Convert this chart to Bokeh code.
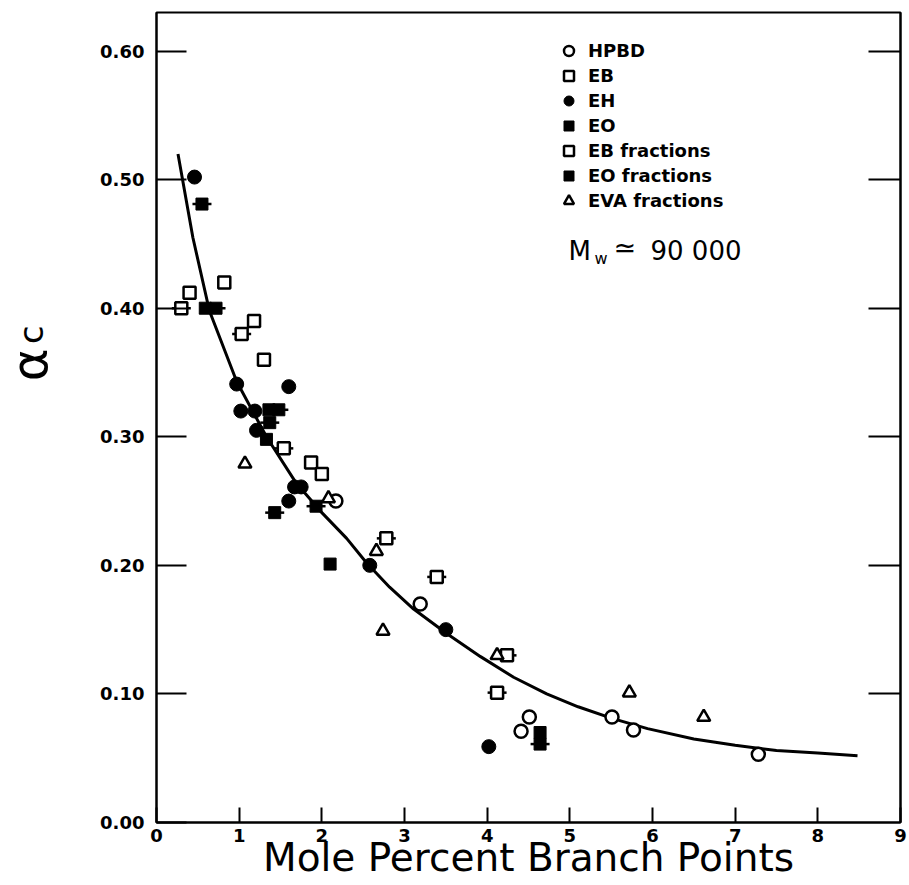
import math

from bokeh.plotting import figure
from bokeh.layouts import row
from bokeh.models import (Range1d, LinearAxis, FixedTicker, Legend, LegendItem,
                          Label, NumeralTickFormatter)
from bokeh.core.properties import value
from bokeh.embed import file_html
from bokeh.resources import INLINE

# Critical conversion alpha_c against mole percent branch points
hpbd_x = [2.17, 3.19, 4.41, 4.51, 5.51, 5.77, 7.28]
hpbd_y = [0.250, 0.170, 0.071, 0.082, 0.082, 0.072, 0.053]

eb_x = [0.40, 0.82, 1.18, 1.30, 1.87, 2.00]
eb_y = [0.412, 0.420, 0.390, 0.360, 0.280, 0.271]

eh_x = [0.46, 0.97, 1.02, 1.19, 1.21, 1.60, 1.67, 1.75, 1.60, 2.58, 3.50, 4.02]
eh_y = [0.502, 0.341, 0.320, 0.320, 0.305, 0.339, 0.261, 0.261, 0.250, 0.200, 0.150, 0.059]

eo_x = [0.59, 1.33, 1.36, 2.10, 4.64]
eo_y = [0.400, 0.298, 0.321, 0.201, 0.070]

ebf_x = [0.30, 1.03, 1.54, 2.78, 3.39, 4.12, 4.24]
ebf_y = [0.400, 0.380, 0.291, 0.221, 0.191, 0.101, 0.130]

eof_x = [0.55, 0.72, 1.37, 1.48, 1.43, 1.93, 4.64]
eof_y = [0.481, 0.400, 0.311, 0.321, 0.241, 0.246, 0.061]

eva_x = [1.07, 2.08, 2.66, 2.74, 4.12, 5.72, 6.62]
eva_y = [0.279, 0.252, 0.211, 0.149, 0.130, 0.101, 0.082]

# fitted curve, read along its length
curve_x = [0.26, 0.44, 0.64, 0.97, 1.33, 1.69, 2.00, 2.30, 2.54, 2.82, 3.11, 3.51,
           3.92, 4.32, 4.72, 5.10, 5.51, 5.94, 6.50, 7.00, 7.50, 8.00, 8.48]
curve_y = [0.520, 0.455, 0.398, 0.343, 0.300, 0.264, 0.241, 0.221, 0.202, 0.183, 0.166, 0.147,
           0.129, 0.113, 0.100, 0.090, 0.081, 0.073, 0.065, 0.060, 0.056, 0.054, 0.052]

x_ticks = [0, 1, 2, 3, 4, 5, 6, 7, 8, 9]
y_ticks = [0.0, 0.1, 0.2, 0.3, 0.4, 0.5, 0.6]
right_ticks = [0.1, 0.2, 0.3, 0.4, 0.5, 0.6]

FONT = "DejaVu Sans"
LABEL_W = 60  # strip on the left that holds the rotated y title

p = figure(width=909 - LABEL_W, height=885, x_range=Range1d(0, 9), y_range=Range1d(0, 0.63),
           output_backend="svg", toolbar_location=None, title=None,
           min_border_left=156 - LABEL_W, min_border_right=9, min_border_top=12,
           min_border_bottom=63, background_fill_color="white",
           border_fill_color="white")
p.grid.visible = False
p.outline_line_color = "black"
p.outline_line_width = 2

xa = p.xaxis[0]
xa.ticker = FixedTicker(ticks=x_ticks)
xa.major_tick_in = 15
xa.major_tick_out = 0
xa.minor_tick_line_color = None
xa.axis_line_width = 2
xa.major_tick_line_width = 2
xa.major_label_standoff = 6
xa.major_label_text_font = FONT
xa.major_label_text_font_style = "bold"
xa.major_label_text_font_size = "18px"
xa.major_label_text_color = "black"
xa.axis_label = "Mole Percent Branch Points"
xa.axis_label_text_font = FONT
xa.axis_label_text_font_style = "normal"
xa.axis_label_text_font_size = "39px"
xa.axis_label_text_color = "black"
xa.axis_label_standoff = -10

ya = p.yaxis[0]
ya.ticker = FixedTicker(ticks=y_ticks)
ya.formatter = NumeralTickFormatter(format="0.00")
ya.major_tick_in = 30
ya.major_tick_out = 0
ya.minor_tick_line_color = None
ya.axis_line_width = 2
ya.major_tick_line_width = 2
ya.major_label_standoff = 12
ya.major_label_text_font = FONT
ya.major_label_text_font_style = "bold"
ya.major_label_text_font_size = "18px"
ya.major_label_text_color = "black"

# inward ticks along the right frame edge, no labels
ra = LinearAxis(ticker=FixedTicker(ticks=right_ticks), major_tick_in=32, major_tick_out=0,
                minor_tick_line_color=None, axis_line_width=2, major_tick_line_width=2,
                major_label_text_color=None, major_label_text_font_size="1px",
                major_label_standoff=0)
p.add_layout(ra, "right")

# curve under the markers
p.line(curve_x, curve_y, line_color="black", line_width=3)

open_kw = dict(fill_color="white", line_color="black", line_width=2.5)
solid_kw = dict(fill_color="black", line_color="black", line_width=1)

r_hpbd = p.scatter(hpbd_x, hpbd_y, marker="circle", size=13, **open_kw)
r_eb = p.scatter(eb_x, eb_y, marker="square", size=12, **open_kw)
r_eh = p.scatter(eh_x, eh_y, marker="circle", size=14, **solid_kw)
r_eo = p.scatter(eo_x, eo_y, marker="square", size=12, **solid_kw)

p.scatter(ebf_x, ebf_y, marker="dash", size=19, line_color="black", line_width=2.5)
r_ebf = p.scatter(ebf_x, ebf_y, marker="square", size=12, **open_kw)
p.scatter(eof_x, eof_y, marker="dash", size=19, line_color="black", line_width=2.5)
r_eof = p.scatter(eof_x, eof_y, marker="square", size=12, **solid_kw)

r_eva = p.scatter(eva_x, eva_y, marker="triangle", size=13, **open_kw)

# short side ticks for the "fractions" legend symbols
r_tick = p.segment(x0=[], y0=[], x1=[], y1=[], line_color="black", line_width=2.5,
                   line_dash="0 4 17 4")

items = [
    LegendItem(label="HPBD", renderers=[r_hpbd]),
    LegendItem(label="EB", renderers=[r_eb]),
    LegendItem(label="EH", renderers=[r_eh]),
    LegendItem(label="EO", renderers=[r_eo]),
    LegendItem(label="EB fractions", renderers=[r_tick, r_ebf]),
    LegendItem(label="EO fractions", renderers=[r_tick, r_eof]),
    LegendItem(label="EVA fractions", renderers=[r_eva]),
]
legend = Legend(items=items, location=(400, 609), glyph_width=25, glyph_height=25,
                label_height=25, spacing=0, padding=0, margin=0, label_standoff=7,
                border_line_alpha=0, background_fill_alpha=0,
                label_text_font=FONT, label_text_font_style="bold",
                label_text_font_size="18px", label_text_color="black")
p.add_layout(legend)

# molecular weight note
note_kw = dict(x_units="screen", y_units="screen", text_font=FONT,
               text_color="black", text_baseline="alphabetic")
p.add_layout(Label(x=412, y=572, text="M", text_font_size="26px", **note_kw))
p.add_layout(Label(x=438, y=564, text="w", text_font_size="16px", **note_kw))
p.add_layout(Label(x=457, y=575, text="\u2243", text_font_size="27px", **note_kw))
p.add_layout(Label(x=494, y=572, text="90 000", text_font_size="26px", **note_kw))

# rotated y title (alpha with subscript c) in its own strip
yl = figure(width=LABEL_W, height=885, x_range=Range1d(0, LABEL_W), y_range=Range1d(0, 885),
            output_backend="svg", toolbar_location=None, title=None,
            x_axis_location=None, y_axis_location=None,
            min_border_left=0, min_border_right=0, min_border_top=0, min_border_bottom=0,
            background_fill_color="white", border_fill_color="white")
yl.grid.visible = False
yl.outline_line_color = None
yl.text(x=[0], y=[885 - 385], text=["\u03b1"], angle=math.pi / 2,
        text_font=value(FONT), text_font_size="50px", text_align="center",
        text_baseline="top", text_color="black")
yl.text(x=[10], y=[885 - 352], text=["c"], angle=math.pi / 2,
        text_font=value(FONT), text_font_size="34px", text_align="center",
        text_baseline="top", text_color="black")

layout = row(yl, p, spacing=0)
open("out.html", "w").write(file_html(layout, INLINE))
